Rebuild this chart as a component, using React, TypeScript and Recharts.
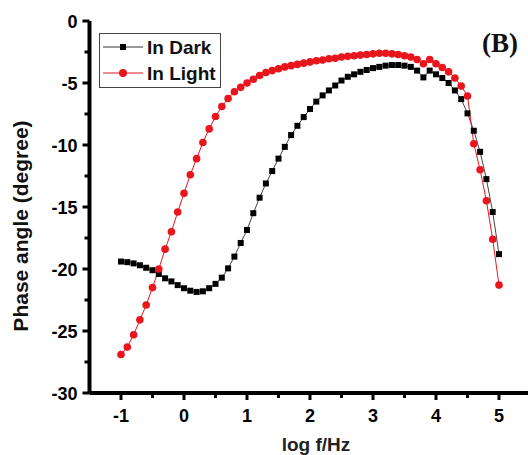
import React from 'react';
import { LineChart, Line, XAxis, YAxis } from 'recharts';

const logF = [
  -1.0, -0.9, -0.8, -0.7, -0.6, -0.5, -0.4, -0.3, -0.2, -0.1,
  0.0, 0.1, 0.2, 0.3, 0.4, 0.5, 0.6, 0.7, 0.8, 0.9,
  1.0, 1.1, 1.2, 1.3, 1.4, 1.5, 1.6, 1.7, 1.8, 1.9,
  2.0, 2.1, 2.2, 2.3, 2.4, 2.5, 2.6, 2.7, 2.8, 2.9,
  3.0, 3.1, 3.2, 3.3, 3.4, 3.5, 3.6, 3.7, 3.8, 3.9,
  4.0, 4.1, 4.2, 4.3, 4.4, 4.5, 4.6, 4.7, 4.8, 4.9,
  5.0,
];

const inDark = [
  -19.4, -19.45, -19.55, -19.7, -19.9, -20.1, -20.4, -20.75, -21.0, -21.3,
  -21.55, -21.75, -21.85, -21.8, -21.55, -21.2, -20.7, -19.95, -19.0, -17.9,
  -16.85, -15.5, -14.25, -13.1, -12.1, -11.1, -10.15, -9.2, -8.45, -7.75,
  -7.1, -6.5, -6.0, -5.6, -5.2, -4.8, -4.5, -4.3, -4.1, -3.95,
  -3.8, -3.7, -3.6, -3.55, -3.55, -3.6, -3.7, -4.0, -4.55, -4.0,
  -4.3, -4.6, -5.0, -5.6, -6.3, -7.45, -8.85, -10.55, -12.75, -15.4,
  -18.8,
];

const inLight = [
  -26.9, -26.3, -25.3, -24.1, -22.9, -21.5, -20.0, -18.4, -17.0, -15.4,
  -13.9, -12.4, -11.1, -9.8, -8.7, -7.7, -6.9, -6.25, -5.7, -5.35,
  -5.0, -4.7, -4.4, -4.15, -4.0, -3.85, -3.7, -3.6, -3.5, -3.4,
  -3.3, -3.2, -3.15, -3.05, -3.0, -2.9, -2.85, -2.8, -2.75, -2.7,
  -2.65, -2.6, -2.6, -2.65, -2.7, -2.8, -2.9, -3.1, -3.45, -3.1,
  -3.45, -3.75, -4.1, -4.6, -5.25, -6.05, -9.9, -12.0, -14.5, -17.6,
  -21.3,
];

const xTicks = [-1, -0.5, 0, 0.5, 1, 1.5, 2, 2.5, 3, 3.5, 4, 4.5, 5];
const yTicks = [0, -2.5, -5, -7.5, -10, -12.5, -15, -17.5, -20, -22.5, -25, -27.5, -30];

const data = logF.map((x, i) => ({ x, dark: inDark[i], light: inLight[i] }));

const FONT = '"Liberation Sans", Arial, sans-serif';
const RED = '#e8161c';

const XTick = (props: any) => {
  const { x, y, payload } = props;
  const major = Number.isInteger(payload.value);
  return (
    <g>
      <line x1={x} y1={y} x2={x} y2={y + (major ? 7 : 5)} stroke="#000" strokeWidth={3} />
      {major && (
        <text x={x} y={y + 29} textAnchor="middle" fontFamily={FONT} fontWeight="bold" fontSize={18} fill="#000">
          {payload.value}
        </text>
      )}
    </g>
  );
};

const YTick = (props: any) => {
  const { x, y, payload } = props;
  const major = payload.value % 5 === 0;
  return (
    <g>
      <line x1={x} y1={y} x2={x - (major ? 7 : 5)} y2={y} stroke="#000" strokeWidth={3} />
      {major && (
        <text x={x - 12} y={y + 6.5} textAnchor="end" fontFamily={FONT} fontWeight="bold" fontSize={18} fill="#000">
          {payload.value}
        </text>
      )}
    </g>
  );
};

const Square = (props: any) => {
  const { cx, cy, index } = props;
  return <rect key={`s-${index}`} x={cx - 3} y={cy - 3} width={6} height={6} fill="#000" />;
};

const Circle = (props: any) => {
  const { cx, cy, index } = props;
  return <circle key={`c-${index}`} cx={cx} cy={cy} r={3.8} fill={RED} />;
};

const legendItems = [
  { label: 'In Dark', color: '#333', square: true },
  { label: 'In Light', color: RED, square: false },
];

const LegendBox = () => (
  <div
    style={{
      position: 'absolute',
      left: 99,
      top: 33,
      border: '1px solid #444',
      background: '#fff',
      width: 122,
      height: 55,
      boxSizing: 'border-box',
      fontFamily: FONT,
      fontWeight: 'bold',
      fontSize: 19,
      color: '#111',
      lineHeight: 1,
    }}
  >
    {legendItems.map((e) => (
      <div key={e.label} style={{ display: 'flex', alignItems: 'center', height: 26, paddingLeft: 3 }}>
        <svg width={40} height={14} style={{ marginRight: 4, flex: 'none' }}>
          <line x1={0} y1={7} x2={40} y2={7} stroke={e.color} strokeWidth={1} />
          {e.square ? (
            <rect x={17} y={4} width={6} height={6} fill="#000" />
          ) : (
            <circle cx={20} cy={7} r={4} fill={RED} />
          )}
        </svg>
        <span style={{ whiteSpace: 'nowrap' }}>{e.label}</span>
      </div>
    ))}
  </div>
);

export default function App() {
  return (
    <div style={{ position: 'absolute', left: 0, top: 0, width: 528, height: 455, overflow: 'hidden', background: '#fff' }}>
      <LineChart width={532} height={455} data={data} margin={{ top: 21, right: 1.5, left: 0, bottom: 0 }}>
        <XAxis
          xAxisId="top"
          orientation="top"
          type="number"
          dataKey="x"
          domain={[-1.5, 5.5]}
          height={0}
          tick={false}
          tickLine={false}
          axisLine={{ stroke: '#000', strokeWidth: 4 }}
        />
        <XAxis
          type="number"
          dataKey="x"
          domain={[-1.5, 5.5]}
          ticks={xTicks}
          interval={0}
          height={62}
          tickSize={0}
          tickMargin={0}
          tickLine={false}
          tick={<XTick />}
          axisLine={{ stroke: '#000', strokeWidth: 4 }}
          label={{
            content: () => (
              <text x={316} y={451} textAnchor="middle" fontFamily={FONT} fontWeight="bold" fontSize={19} fill="#222">
                log f/Hz
              </text>
            ),
          }}
        />
        <YAxis
          type="number"
          domain={[-30, 0]}
          ticks={yTicks}
          interval={0}
          width={89.5}
          tickSize={0}
          tickMargin={0}
          tickLine={false}
          tick={<YTick />}
          axisLine={{ stroke: '#000', strokeWidth: 4 }}
          label={{
            content: () => (
              <text
                x={28}
                y={226}
                transform="rotate(-90 28 226)"
                textAnchor="middle"
                fontFamily={FONT}
                fontWeight="bold"
                fontSize={21}
                fill="#111"
              >
                Phase angle (degree)
              </text>
            ),
          }}
        />
        <Line
          type="linear"
          dataKey="dark"
          stroke="#444"
          strokeWidth={1}
          dot={Square}
          activeDot={false}
          isAnimationActive={false}
        />
        <Line
          type="linear"
          dataKey="light"
          stroke={RED}
          strokeWidth={1}
          dot={Circle}
          activeDot={false}
          isAnimationActive={false}
        />
      </LineChart>
      <LegendBox />
      <div
        style={{
          position: 'absolute',
          left: 482,
          top: 30,
          fontFamily: '"Liberation Serif", "Times New Roman", serif',
          fontWeight: 'bold',
          fontSize: 27,
          lineHeight: 1,
          color: '#111',
        }}
      >
        (B)
      </div>
    </div>
  );
}
